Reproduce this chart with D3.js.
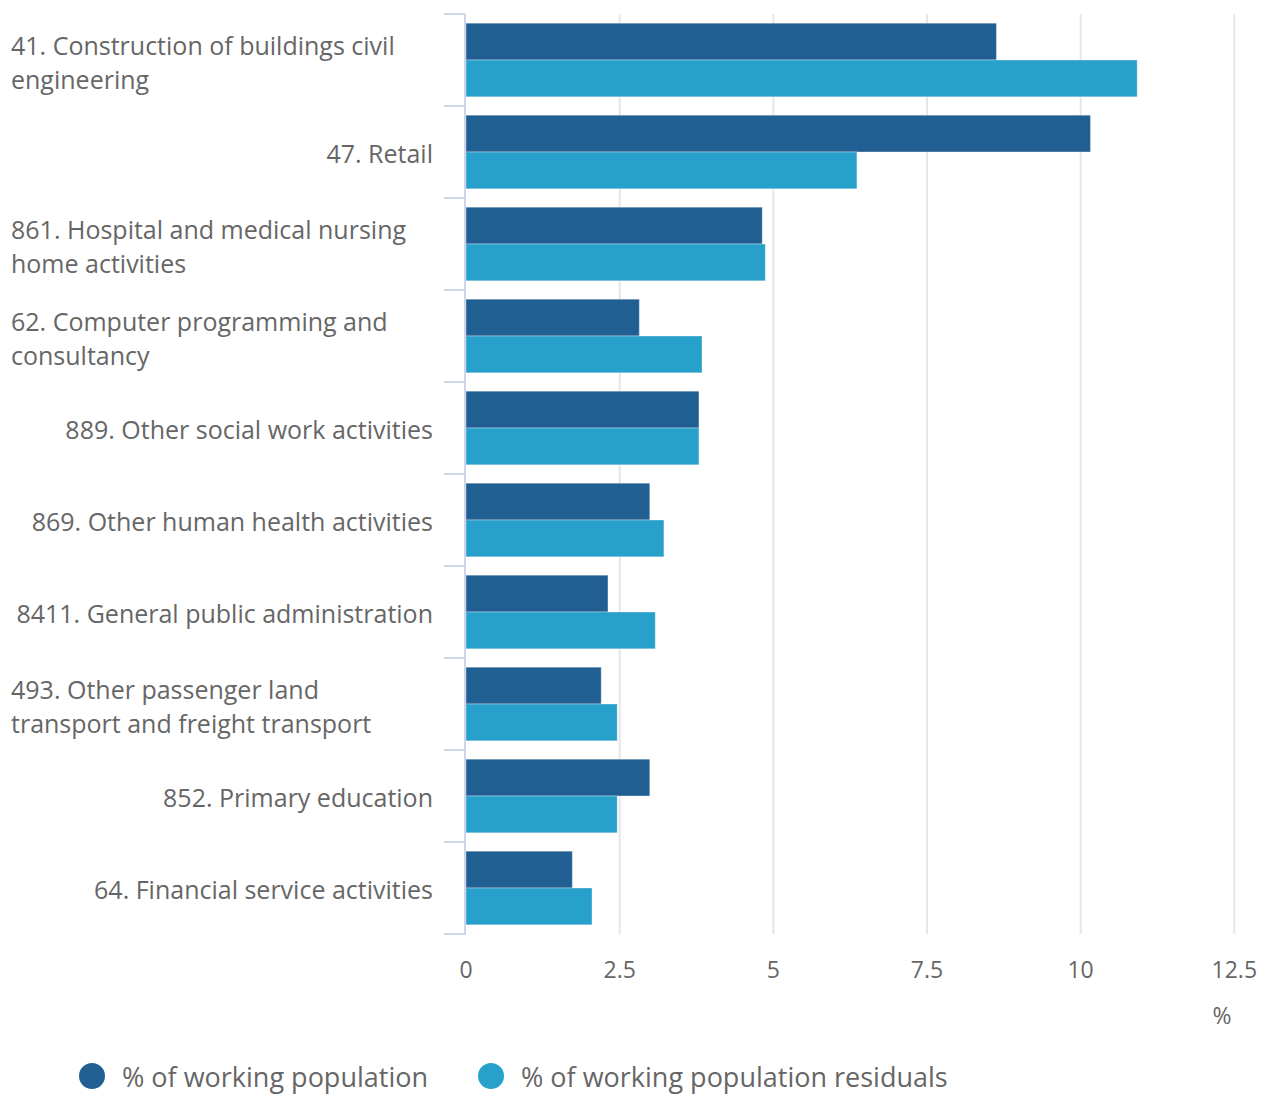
<!DOCTYPE html>
<html><head><meta charset="utf-8">
<script src="https://cdn.jsdelivr.net/npm/d3@7"></script>
<style>
html,body{margin:0;padding:0;background:#fff;}
text{font-family:"Open Sans",sans-serif;fill:#666666;}
</style></head>
<body>
<svg id="chart" width="1266" height="1095"></svg>
<script>
const categories = [
  ["41. Construction of buildings civil", "engineering"],
  ["47. Retail"],
  ["861. Hospital and medical nursing", "home activities"],
  ["62. Computer programming and", "consultancy"],
  ["889. Other social work activities"],
  ["869. Other human health activities"],
  ["8411. General public administration"],
  ["493. Other passenger land", "transport and freight transport"],
  ["852. Primary education"],
  ["64. Financial service activities"]
];
const seriesNames = ["% of working population", "% of working population residuals"];
const workingPop = [8.63, 10.16, 4.82, 2.82, 3.79, 2.99, 2.31, 2.20, 2.99, 1.73];
const residuals  = [10.92, 6.36, 4.87, 3.84, 3.79, 3.22, 3.08, 2.46, 2.46, 2.05];
const tickValues = [0, 2.5, 5, 7.5, 10, 12.5];
const unitLabel = "%";
const colors = ["#215f92", "#27a0cb"];

(function () {
const svg = d3.select("#chart");
const pL = 466, pR = 1234.3, pT = 14, pB = 934;

const x = d3.scaleLinear().domain([0, 12.5]).range([pL, pR]);
const y = d3.scaleBand().domain(d3.range(categories.length)).range([pT, pB]).paddingInner(0.2).paddingOuter(0.1);
const y1 = d3.scaleBand().domain([0, 1]).range([0, y.bandwidth()]);

// grid
svg.append("g").selectAll("line").data(tickValues.slice(1)).join("line")
  .attr("x1", d => x(d)).attr("x2", d => x(d))
  .attr("y1", pT).attr("y2", pB)
  .attr("stroke", "#e6e6e6").attr("stroke-width", 2);

// bars
const series = [workingPop, residuals];
const g = svg.append("g");
categories.forEach((c, i) => {
  series.forEach((s, k) => {
    g.append("rect")
      .attr("x", x(0))
      .attr("y", y(i) + y1(k))
      .attr("width", x(s[i]) - x(0))
      .attr("height", y1.bandwidth())
      .attr("fill", colors[k])
      .attr("stroke", "rgba(255,255,255,0.35)")
      .attr("stroke-width", 1);
  });
});

// y axis line and ticks
const bounds = [pT].concat(d3.range(categories.length).map(i => y(i) + y.bandwidth() + y.step() * y.paddingInner() / 2));
bounds[bounds.length - 1] = pB;
svg.append("line").attr("x1", 465).attr("x2", 465).attr("y1", pT).attr("y2", pB + 1)
  .attr("stroke", "#ccd6eb").attr("stroke-width", 2);
svg.append("g").selectAll("line").data(bounds).join("line")
  .attr("x1", 444).attr("x2", 465).attr("y1", d => d).attr("y2", d => d)
  .attr("stroke", "#ccd6eb").attr("stroke-width", 2);

// category labels
const lineH = 34;
categories.forEach((lines, i) => {
  const cy = y(i) + y.bandwidth() / 2;
  const multi = lines.length > 1;
  const t = svg.append("text")
    .attr("font-size", 25)
    .attr("text-anchor", multi ? "start" : "end");
  lines.forEach((ln, j) => {
    t.append("tspan")
      .attr("x", multi ? 11 : 433)
      .attr("y", cy + (j - (lines.length - 1) / 2) * lineH + (multi ? 11.5 : 10.5))
      .text(ln);
  });
});

// x tick labels
svg.append("g").selectAll("text").data(tickValues).join("text")
  .attr("x", d => x(d)).attr("y", 978)
  .attr("text-anchor", "middle").attr("font-size", 23)
  .text(d => d3.format("~g")(d));
svg.append("text").attr("x", 1222).attr("y", 1024).attr("text-anchor", "middle")
  .attr("font-size", 23).text(unitLabel);

// legend
const legendX = [92, 491];
seriesNames.forEach((name, k) => {
  svg.append("circle").attr("cx", legendX[k]).attr("cy", 1076).attr("r", 13).attr("fill", colors[k]);
  svg.append("text").attr("x", legendX[k] + 30).attr("y", 1087).attr("font-size", 27).text(name);
});
})();
</script>
</body></html>
